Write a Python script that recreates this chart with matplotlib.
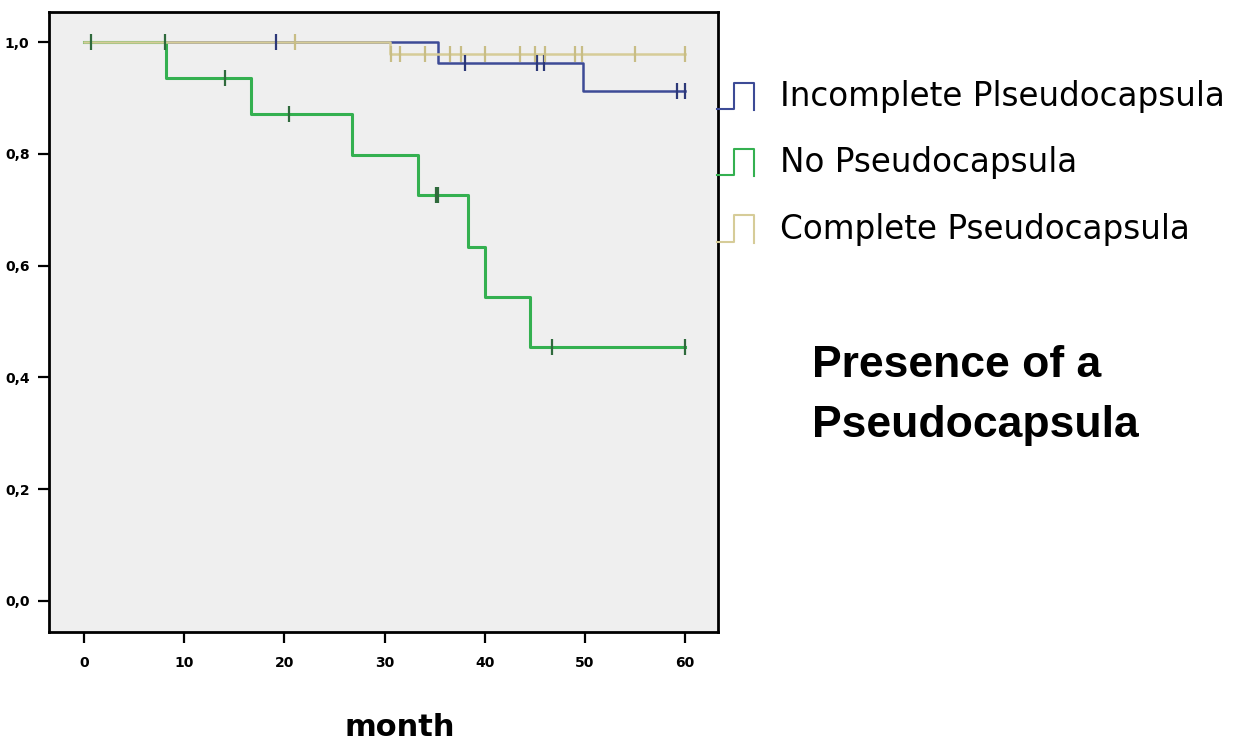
import matplotlib
matplotlib.use("Agg")
import matplotlib.pyplot as plt
import numpy as np
from matplotlib.legend_handler import HandlerBase
from matplotlib.lines import Line2D

# Kaplan-Meier steps (time in months, survival)
incomplete_times = [0, 35.3, 49.8, 60.0]
incomplete_surv = [1.0, 0.962, 0.912, 0.912]
incomplete_censor = [19.2, 38.0, 45.2, 45.9, 59.2, 60.0]

none_times = [0, 8.2, 16.7, 26.8, 33.3, 38.3, 40.0, 44.5, 60.0]
none_surv = [1.0, 0.935, 0.872, 0.798, 0.727, 0.634, 0.544, 0.455, 0.455]
none_censor = [0.7, 8.1, 14.1, 20.5, 35.1, 35.3, 46.7, 60.0]

complete_times = [0, 30.5, 60.0]
complete_surv = [1.0, 0.978, 0.978]
complete_censor = [21.1, 30.6, 31.5, 34.0, 36.5, 37.6, 40.0, 43.5, 45.0,
                   46.0, 49.0, 49.7, 55.0, 60.0]

labels = ["Incomplete Plseudocapsula", "No Pseudocapsula", "Complete Pseudocapsula"]
colors = ["#3d4b96", "#34b050", "#d6cc98"]
censor_colors = ["#2c3878", "#2f6a3c", "#c8bd85"]

x_ticks = [0, 10, 20, 30, 40, 50, 60]
y_ticks = [0.0, 0.2, 0.4, 0.6, 0.8, 1.0]
y_ticklabels = ["0,0", "0,2", "0,4", "0,6", "0,8", "1,0"]


class StepHandler(HandlerBase):
    def create_artists(self, legend, orig_handle, xdescent, ydescent,
                       width, height, fontsize, trans):
        xs = np.array([0, 0.46, 0.46, 1.0, 1.0]) * width - xdescent
        ys = np.array([-0.1, -0.1, 1.0, 1.0, -0.15]) * height - ydescent
        line = Line2D(xs, ys, color=orig_handle.get_color(), lw=1.5,
                      transform=trans)
        return [line]


def step_value(times, surv, t):
    idx = np.searchsorted(times, t, side="right") - 1
    return np.array(surv)[idx]


def main():
    fig = plt.figure(figsize=(12.33, 7.42), dpi=100)
    fig.patch.set_facecolor("white")
    ax = fig.add_axes([49 / 1233, 1 - 632 / 742, 669 / 1233, 620 / 742])
    ax.set_facecolor("#efefef")

    groups = [
        (incomplete_times, incomplete_surv, incomplete_censor),
        (none_times, none_surv, none_censor),
        (complete_times, complete_surv, complete_censor),
    ]
    handles = []
    for order in [1, 0, 2]:
        times, surv, censor = groups[order]
        lw = 2.2 if order == 1 else 1.8
        h, = ax.step(times, surv, where="post", color=colors[order], lw=lw,
                     zorder=2 + order)
        cy = step_value(times, surv, censor)
        ax.plot(censor, cy, linestyle="none", marker="|", markersize=11,
                markeredgewidth=1.6, color=censor_colors[order], zorder=6)
        handles.append((order, h))
    handles = [h for _, h in sorted(handles, key=lambda p: p[0])]

    ax.set_xlim(-3.5, 63.3)
    ax.set_ylim(-0.0555, 1.054)
    ax.set_xticks(x_ticks)
    ax.set_xticklabels([str(v) for v in x_ticks], fontsize=10, fontweight="bold")
    ax.set_yticks(y_ticks)
    ax.set_yticklabels(y_ticklabels, fontsize=10, fontweight="bold")
    ax.tick_params(direction="out", length=8, width=1.6, pad=6)
    ax.tick_params(axis="x", pad=9)
    for side in ["left", "bottom", "right", "top"]:
        ax.spines[side].set_linewidth(2)
        ax.spines[side].set_color("black")

    ax.set_xlabel("month", fontsize=22, fontweight="bold")
    ax.xaxis.set_label_coords((400 - 49) / 669, (632 - 713) / 620)

    fig.legend(handles, labels, handler_map={Line2D: StepHandler()},
               loc="upper left", bbox_to_anchor=(717 / 1233, 1 - 80 / 742),
               frameon=False, fontsize=23.5, handlelength=1.13, handleheight=0.75,
               handletextpad=0.8, labelspacing=1.02, borderpad=0,
               borderaxespad=0)

    fig.text(812 / 1233, 1 - 377 / 742, "Presence of a", fontsize=32,
             fontweight="bold", family="Liberation Sans", va="baseline")
    fig.text(812 / 1233, 1 - 437 / 742, "Pseudocapsula", fontsize=32,
             fontweight="bold", family="Liberation Sans", va="baseline")

    fig.savefig("out.png", dpi=100, facecolor="white")
    plt.close(fig)


if __name__ == "__main__":
    main()
